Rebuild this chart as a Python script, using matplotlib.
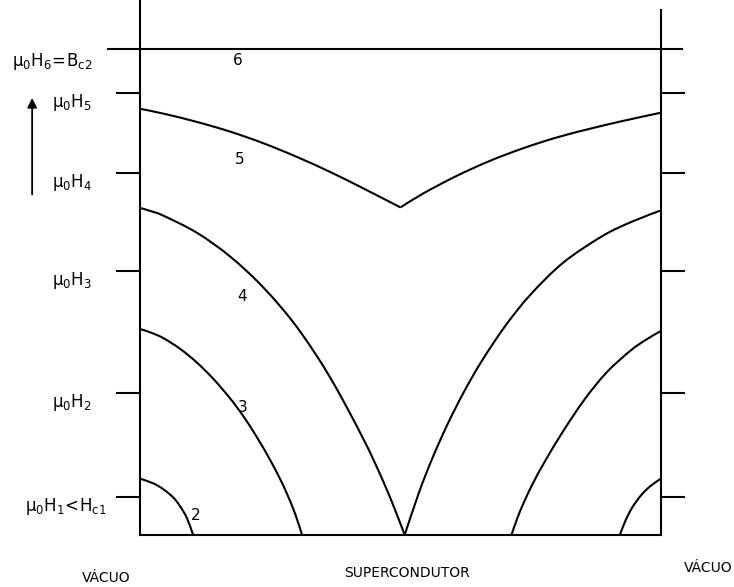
import numpy as np
import matplotlib
matplotlib.use("Agg")
import matplotlib.pyplot as plt
from matplotlib.path import Path
from matplotlib.patches import PathPatch

# slab position (0 = left surface, 1 = right surface) and field B / Bc2
# profile 2
x2_left = [0.0, 0.026, 0.045, 0.064, 0.077, 0.090, 0.102]
b2_left = [0.116, 0.106, 0.094, 0.077, 0.059, 0.035, 0.0]
x2_right = [0.921, 0.932, 0.945, 0.962, 0.980, 1.0]
b2_right = [0.0, 0.030, 0.057, 0.082, 0.101, 0.116]

# profile 3
x3_left = [0.0, 0.022, 0.045, 0.077, 0.109, 0.141, 0.173, 0.198, 0.224, 0.250, 0.269, 0.282, 0.298, 0.311]
b3_left = [0.424, 0.416, 0.405, 0.383, 0.355, 0.321, 0.281, 0.245, 0.202, 0.154, 0.115, 0.085, 0.043, 0.0]
x3_right = [0.713, 0.724, 0.738, 0.755, 0.778, 0.813, 0.854, 0.896, 0.941, 0.970, 1.0]
b3_right = [0.0, 0.034, 0.070, 0.108, 0.153, 0.215, 0.280, 0.335, 0.379, 0.401, 0.420]

# profile 4
x4_left = [0.0, 0.022, 0.045, 0.109, 0.173, 0.237, 0.301, 0.365, 0.429, 0.467, 0.492, 0.508]
b4_left = [0.673, 0.666, 0.657, 0.622, 0.573, 0.509, 0.428, 0.324, 0.197, 0.110, 0.045, 0.0]
x4_right = [0.508, 0.535, 0.560, 0.589, 0.621, 0.656, 0.701, 0.749, 0.813, 0.889, 0.945, 1.0]
b4_right = [0.0, 0.086, 0.155, 0.225, 0.293, 0.358, 0.430, 0.494, 0.561, 0.616, 0.645, 0.668]

# profile 5 (two branches meeting at the centre)
x5_left = [0.0, 0.045, 0.109, 0.173, 0.237, 0.301, 0.365, 0.429, 0.5]
b5_left = [0.877, 0.867, 0.850, 0.830, 0.806, 0.778, 0.747, 0.713, 0.674]
x5_right = [0.5, 0.544, 0.608, 0.672, 0.736, 0.800, 0.864, 0.927, 1.0]
b5_right = [0.674, 0.703, 0.739, 0.770, 0.796, 0.818, 0.836, 0.852, 0.869]

# profile 6: B = Bc2 everywhere
b6 = 1.0

# applied field levels (ticks) and their labels
h_ticks = [0.079, 0.292, 0.543, 0.745, 0.91]
h_labels = [r'$\mathrm{μ_0H_1\!<\!H_{c1}}$', r'$\mathrm{μ_0H_2}$', r'$\mathrm{μ_0H_3}$',
            r'$\mathrm{μ_0H_4}$', r'$\mathrm{μ_0H_5}$']
top_label = r'$\mathrm{μ_0H_6\!=\!B_{c2}}$'

curve_nums = ['2', '3', '4', '5', '6']
curve_num_pos = [(0.106, 0.041), (0.198, 0.263), (0.196, 0.490),
                 (0.192, 0.772), (0.188, 0.977)]


def smooth_curve(ax, xs, ys, **kw):
    # draw the read points as one path with cubic segments between them
    p = np.column_stack([xs, ys])
    n = len(p)
    verts = [p[0]]
    codes = [Path.MOVETO]
    for i in range(n - 1):
        p0 = p[i - 1] if i > 0 else p[i]
        p3 = p[i + 2] if i + 2 < n else p[i + 1]
        c1 = p[i] + (p[i + 1] - p0) / 6
        c2 = p[i + 1] - (p3 - p[i]) / 6
        verts += [c1, c2, p[i + 1]]
        codes += [Path.CURVE4] * 3
    ax.add_patch(PathPatch(Path(verts, codes), fill=False, **kw))


plt.rcParams['mathtext.fontset'] = 'dejavusans'
plt.rcParams['font.family'] = 'DejaVu Sans'

fig = plt.figure(figsize=(7.34, 5.87), dpi=100)
ax = fig.add_axes([0, 0, 1, 1])
ax.set_xlim(-140 / 521, (734 - 140) / 521)
ax.set_ylim(-(587 - 535) / 486, 535 / 486)
ax.axis('off')

lw = 1.5
k = 'black'

# frame: two surfaces and the bottom
ax.plot([0, 0], [0, 1.1], color=k, lw=lw)
ax.plot([1, 1], [0, 1.08], color=k, lw=lw)
ax.plot([0, 1], [0, 0], color=k, lw=lw)
ax.plot([-0.061, 1.040], [b6, b6], color=k, lw=lw)

# tick marks on both surfaces
for h in h_ticks:
    ax.plot([-0.045, 0], [h, h], color=k, lw=lw)
    ax.plot([1, 1.045], [h, h], color=k, lw=lw)

# field profiles
for xs, bs in [(x2_left, b2_left), (x2_right, b2_right),
               (x3_left, b3_left), (x3_right, b3_right),
               (x4_left, b4_left), (x4_right, b4_right),
               (x5_left, b5_left), (x5_right, b5_right)]:
    smooth_curve(ax, xs, bs, edgecolor=k, lw=lw, joinstyle='round')

# left-hand labels
fs = 12
for h, lab in zip(h_ticks, h_labels):
    xr = -0.063 if 'H_1' in lab else -0.092
    ax.text(xr, h - 0.02, lab, ha='right', va='center', fontsize=fs)
ax.text(-0.092, 0.975, top_label, ha='right', va='center', fontsize=fs)

# arrow of increasing field
ax.annotate('', xy=(-0.207, 0.905), xytext=(-0.207, 0.695),
            arrowprops=dict(arrowstyle='-|>', color=k, lw=1.3,
                            mutation_scale=14))

for t, (tx, ty) in zip(curve_nums, curve_num_pos):
    ax.text(tx, ty, t, ha='center', va='center', fontsize=11)

ax.text(-0.065, -0.088, 'VÁCUO', ha='center', va='center', fontsize=10)
ax.text(0.512, -0.078, 'SUPERCONDUTOR', ha='center', va='center', fontsize=10)
ax.text(1.090, -0.068, 'VÁCUO', ha='center', va='center', fontsize=10)

fig.savefig('out.png', dpi=100)
